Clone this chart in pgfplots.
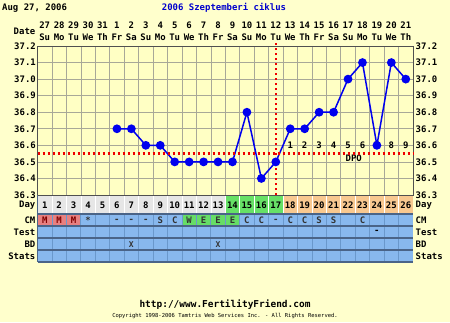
\documentclass[border=0pt]{standalone}
\usepackage{pgfplots}
\pgfplotsset{compat=1.18}
\usepackage{fontspec}
\setmainfont{DejaVu Sans Mono}
\definecolor{bg}{HTML}{FFFFCC}
\definecolor{plotbg}{HTML}{FFFFC4}
\definecolor{gridc}{HTML}{A8A898}
\definecolor{axisc}{HTML}{505050}
\definecolor{ptblue}{HTML}{0000EE}
\definecolor{titleblue}{HTML}{0000CC}
\definecolor{covred}{HTML}{EE0000}
\definecolor{daygray}{HTML}{E6E6E6}
\definecolor{daygreen}{HTML}{66E066}
\definecolor{daypeach}{HTML}{F8C890}
\definecolor{rowblue}{HTML}{88B8EE}
\definecolor{sepblue}{HTML}{6A98CC}
\definecolor{sepdark}{HTML}{4A6488}
\definecolor{cmred}{HTML}{E88080}
\definecolor{cmgreen}{HTML}{66DD66}
\newcommand\ff{\fontsize{9}{10}\selectfont\bfseries}
\tikzset{pix/.style={x=1bp,y=-1bp,shift={(-37.5bp,195bp)}}}
\begin{document}
\begin{tikzpicture}
\begin{scope}[pix]
\fill[bg] (0,0) rectangle (450,322);
\end{scope}
\begin{axis}[at={(0,0)}, anchor=south west, scale only axis,
  width=375.5bp, height=149bp,
  xmin=0.5, xmax=26.5, ymin=36.3, ymax=37.2,
  xtick={0.5,1.5,...,26.5}, xticklabels={},
  ytick={36.3,36.4,36.5,36.6,36.7,36.8,36.9,37.0,37.1,37.2},
  yticklabel={\pgfmathprintnumber[fixed,fixed zerofill,precision=1,assume math mode=true]{\tick}},
  y tick label style={font=\ff, inner sep=1.5bp},
  grid=major, major grid style={draw=gridc, line width=0.6bp},
  major tick length=0pt,
  axis background/.style={fill=plotbg},
  axis line style={draw=axisc, line width=0.8bp},
  clip=false]
% DPO labels
\node[font=\ff] at (axis cs:18,36.6) {1};
\node[font=\ff] at (axis cs:19,36.6) {2};
\node[font=\ff] at (axis cs:20,36.6) {3};
\node[font=\ff] at (axis cs:21,36.6) {4};
\node[font=\ff] at (axis cs:22,36.6) {5};
\node[font=\ff] at (axis cs:23,36.6) {6};
\node[font=\ff] at (axis cs:24,36.6) {7};
\node[font=\ff] at (axis cs:25,36.6) {8};
\node[font=\ff] at (axis cs:26,36.6) {9};
\node[font=\ff] at (axis cs:22.4,36.52) {DPO};
\addplot[draw=ptblue, line width=1.5bp, mark=*, mark size=3.6bp,
  mark options={fill=ptblue, draw=ptblue}] coordinates {
(6,36.7)(7,36.7)(8,36.6)(9,36.6)(10,36.5)(11,36.5)(12,36.5)(13,36.5)(14,36.5)
(15,36.8)(16,36.4)(17,36.5)(18,36.7)(19,36.7)(20,36.8)(21,36.8)(22,37.0)
(23,37.1)(24,36.6)(25,37.1)(26,37.0)};
\addplot[draw=covred, line width=2.5bp, dash pattern=on 2.5bp off 2.5bp] coordinates {(0.5,36.55)(26.5,36.55)};
\addplot[draw=covred, line width=2.5bp, dash pattern=on 2.5bp off 2.5bp] coordinates {(17,36.3)(17,37.225)};
\end{axis}
\begin{scope}[pix, every node/.style={inner sep=0pt, font=\ff}]
\def\cw{14.4423}
% day row
\fill[daygray] (37.5,195) rectangle (225.25,213.5);
\fill[daygreen] (225.25,195) rectangle (283.02,213.5);
\fill[daypeach] (283.02,195) rectangle (413,213.5);
% blue rows
\fill[rowblue] (37.5,213.5) rectangle (413,262);
\fill[cmred] (37.5,214.5) rectangle (80.83,226);
\fill[cmgreen] (181.92,214.5) rectangle (239.69,226);
\foreach \c in {1,...,25} {
  \pgfmathsetmacro\xx{37.5+\c*\cw}
  \draw[white, line width=0.6bp] (\xx,195.5) -- (\xx,213.5);
  \draw[sepblue, line width=0.7bp] (\xx,213.5) -- (\xx,262);
}
\foreach \yy in {214,226,238,250,262} {
  \draw[sepdark, line width=1.4bp] (37.5,\yy) -- (413,\yy);
}
\draw[axisc, line width=0.8bp] (37.5,195) -- (413,195);
\draw[sepdark, line width=0.8bp] (37.5,195) -- (37.5,262);
% day numbers
\foreach \c in {1,...,26} {
  \pgfmathsetmacro\xx{37.5+(\c-0.5)*\cw}
  \node at (\xx,205) {\c};
}
% CM
\foreach \c/\m in {4/*,6/-,7/-,8/-,9/S,10/C,11/W,12/E,13/E,14/E,15/C,16/C,17/-,18/C,19/C,20/S,21/S,23/C} {
  \pgfmathsetmacro\xx{37.5+(\c-0.5)*\cw}
  \node[text=black!80] at (\xx,220.5) {\m};
}
\foreach \c in {1,2,3} {
  \pgfmathsetmacro\xx{37.5+(\c-0.5)*\cw}
  \node[text=red!50!black] at (\xx,220.5) {M};
}
% Test
\node at (37.5+23.5*\cw,232) {-};
% BD
\node[font=\fontsize{8}{9}\selectfont\bfseries, text=black!80] at (37.5+6.5*\cw,244.5) {X};
\node[font=\fontsize{8}{9}\selectfont\bfseries, text=black!80] at (37.5+12.5*\cw,244.5) {X};
% row labels
\foreach \l/\yy in {Day/205,CM/220.5,Test/232.5,BD/244.5,Stats/256.5} {
  \node[anchor=east] at (35.5,\yy) {\l};
  \node[anchor=west] at (415.5,\yy) {\l};
}
% right temperature labels
\foreach \t/\yy in {37.2/46,37.1/62.6,37.0/79.1,36.9/95.7,36.8/112.2,36.7/128.8,36.6/145.3,36.5/161.9,36.4/178.4,36.3/195} {
  \node[anchor=west] at (415.5,\yy) {\t};
}
% date header
\node[anchor=east] at (35.5,31) {Date};
\foreach \d/\w [count=\c] in {27/Su,28/Mo,29/Tu,30/We,31/Th,1/Fr,2/Sa,3/Su,4/Mo,5/Tu,6/We,7/Th,8/Fr,9/Sa,10/Su,11/Mo,12/Tu,13/We,14/Th,15/Fr,16/Sa,17/Su,18/Mo,19/Tu,20/We,21/Th} {
  \pgfmathsetmacro\xx{37.5+(\c-0.5)*\cw}
  \node at (\xx,25) {\d};
  \node at (\xx,37) {\w};
}
% titles
\node[anchor=west] at (2,8) {Aug 27, 2006};
\node[text=titleblue] at (224,8) {2006 Szeptemberi ciklus};
\node[font=\fontsize{9.5}{10}\selectfont\bfseries] at (225,305) {http://www.FertilityFriend.com};
\node[font=\fontsize{5.5}{6}\selectfont] at (225,316) {Copyright 1998-2006 Tamtris Web Services Inc. - All Rights Reserved.};
\end{scope}
\pgfresetboundingbox
\path[pix] (0,0) rectangle (450,322);
\end{tikzpicture}
\end{document}
